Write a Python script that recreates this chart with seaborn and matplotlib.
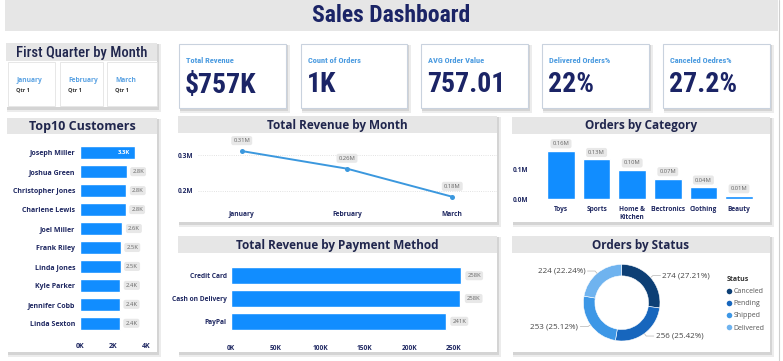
import matplotlib

matplotlib.use("Agg")
import matplotlib.pyplot as plt
import seaborn as sns
from matplotlib import font_manager
from matplotlib.lines import Line2D
from matplotlib.patches import Rectangle
import numpy as np

W, H = 783, 361

# ---- data ----
kpi_labels = ["Total Revenue", "Count of Orders", "AVG Order Value", "Delivered Orders%", "Canceled Oedres%"]
kpi_values = ["$757K", "1K", "757.01", "22%", "27.2%"]
quarter_months = ["January", "February", "March"]
quarter_tags = ["Qtr 1", "Qtr 1", "Qtr 1"]

customers = ["Joseph Miller", "Joshua Green", "Christopher Jones", "Charlene Lewis", "Joel Miller",
             "Frank Riley", "Linda Jones", "Kyle Parker", "Jennifer Cobb", "Linda Sexton"]
customer_revenue = [3330, 2830, 2810, 2770, 2570, 2470, 2460, 2440, 2420, 2410]

months = ["January", "February", "March"]
month_revenue = [311000, 262000, 184000]

categories = ["Toys", "Sports", "Home &\nKitchen", "Electronics", "Clothing", "Beauty"]
category_orders = [162000, 133000, 98000, 69000, 41000, 12000]

payment_methods = ["Credit Card", "Cash on Delivery", "PayPal"]
payment_revenue = [258200, 257600, 241300]

statuses = ["Canceled", "Pending", "Shipped", "Delivered"]
status_counts = [274, 256, 253, 224]

# ---- style ----
BLUE = "#118dff"
LINE = "#3b98de"
NAVY = "#1b2466"
TITLE_C = "#20264d"
TICK = "#1e2761"
HEAD = "#e6e6e6"
LABEL_BOX = dict(boxstyle="round,pad=0.35", fc="#e8e8e8", ec="none")
STATUS_COLORS = ["#0d3f75", "#1766bd", "#3d97e6", "#6fb3ef"]


def pick_font(*names):
    for n in names:
        try:
            font_manager.findfont(font_manager.FontProperties(family=n), fallback_to_default=False)
            return n
        except ValueError:
            pass
    return "DejaVu Sans"


sns.set_theme(style="white")
BODY = pick_font("Open Sans", "Noto Sans", "DejaVu Sans")
NARROW = pick_font("Liberation Sans Narrow", "Roboto Condensed", "Liberation Sans")
plt.rcParams["font.family"] = [BODY, "DejaVu Sans"]

fig = plt.figure(figsize=(W / 100, H / 100), dpi=100, facecolor="white")
bg = fig.add_axes([0, 0, 1, 1])
bg.set_xlim(0, W)
bg.set_ylim(H, 0)
bg.axis("off")


def axes_px(x0, y0, x1, y1):
    a = fig.add_axes([x0 / W, 1 - y1 / H, (x1 - x0) / W, (y1 - y0) / H])
    a.set_facecolor("none")
    return a


def box(x0, y0, x1, y1, **kw):
    bg.add_patch(Rectangle((x0, y0), x1 - x0, y1 - y0, **kw))


def panel(x0, y0, x1, y1, title=None, head=17, edge="none", size=8.5, font=None):
    box(x0 + 0.5, y0 + 1, x1 + 3.5, y1 + 4.5, fc="#ececec", ec="none")
    box(x0 + 1, y0 + 1, x1 + 2, y1 + 2.5, fc="#d4d4d4", ec="none")
    box(x0, y0, x1, y1, fc="white", ec=edge, lw=0.8)
    if title:
        box(x0, y0, x1, y0 + head, fc=HEAD, ec="none")
        bg.text((x0 + x1) / 2, y0 + head / 2 + 0.5, title, ha="center", va="center",
                fontsize=size, fontweight="bold", color=TITLE_C, family=font or BODY)


def style_ticks(ax, size=4.8):
    sns.despine(ax=ax, left=True, bottom=True)
    ax.tick_params(length=0, labelsize=size, labelcolor=TICK)
    for t in ax.get_xticklabels() + ax.get_yticklabels():
        t.set_fontweight("bold")
    ax.set_xlabel("")
    ax.set_ylabel("")


# ---- banner ----
box(5, 0, 778, 31, fc=HEAD, ec="none")
bg.text(391, 16, "Sales Dashboard", ha="center", va="center", fontsize=17,
        fontweight="bold", color=NAVY, family=NARROW)
bg.plot([778.5, 778.5], [0, H], color="#cfcfcf", lw=0.8)

# ---- quarter slicer ----
panel(6, 43, 157, 107)
box(6, 43, 157, 61, fc=HEAD, ec="none")
bg.text(82, 52.5, "First Quarter by Month", ha="center", va="center", fontsize=10.5,
        fontweight="medium", color=TITLE_C, family=NARROW)
for (x0, x1), m, q in zip([(8, 55), (60, 103), (107, 157)], quarter_months, quarter_tags):
    box(x0, 62, x1, 106, fc="white", ec="#e3e3e3", lw=0.6)
    bg.text(x0 + 8, 80, m, ha="left", va="center", fontsize=4.8, fontweight="bold", color="#5aa2e3")
    bg.text(x0 + 8, 90, q, ha="left", va="center", fontsize=4, fontweight="bold", color="#333333")

# ---- KPI cards ----
for (x0, x1), lab, val in zip([(179, 286), (301, 407), (421, 528), (542, 649), (663, 770)],
                              kpi_labels, kpi_values):
    panel(x0, 44, x1, 108, edge="#c9d2de")
    bg.text(x0 + 7, 60.5, lab, ha="left", va="center", fontsize=6, fontweight="bold",
            color="#4b9be0", family=NARROW)
    bg.text(x0 + 6, 85, val, ha="left", va="center", fontsize=20, fontweight="bold",
            color=NAVY, family=NARROW)

# ---- panels ----
panel(7, 118, 157, 352, "Top10 Customers", head=16, size=9)
panel(178, 116, 497, 222, "Total Revenue by Month")
panel(512, 117, 770, 222, "Orders by Category")
panel(178, 236, 497, 352, "Total Revenue by Payment Method")
panel(512, 236, 770, 352, "Orders by Status")

# ---- Top10 customers ----
ax = axes_px(80, 143.2, 146, 332.8)
sns.barplot(x=customer_revenue, y=customers, color=BLUE, width=0.7, saturation=1, ax=ax)
ax.set_xlim(0, 4000)
ax.set_ylim(9.5, -0.5)
ax.set_xticks([0, 2000, 4000], ["0K", "2K", "4K"])
style_ticks(ax, 5)
ax.tick_params(axis="x", pad=7.5)
ax.tick_params(axis="y", pad=3.5)
for i, v in enumerate(customer_revenue):
    txt = f"{v / 1000:.1f}K"
    if i == 0:
        ax.annotate(txt, (v, i), xytext=(-3.4, 0), textcoords="offset points", ha="right",
                    va="center", fontsize=4.2, fontweight="bold", color="white")
    else:
        ax.annotate(txt, (v, i), xytext=(4, 0), textcoords="offset points", ha="left",
                    va="center", fontsize=4.2, color="#666666", bbox=LABEL_BOX)

# ---- revenue by month ----
ax = axes_px(197.5, 140, 496.5, 205)
sns.lineplot(x=months, y=month_revenue, sort=False, color=LINE, lw=1.4, marker="o",
             markersize=3.6, markeredgewidth=0, ax=ax)
ax.set_xlim(-0.42, 2.42)
ax.set_ylim(161111, 341667)
ax.set_yticks([200000, 300000], ["0.2M", "0.3M"])
ax.yaxis.grid(True, ls=":", color="#d9d9d9", lw=0.6)
style_ticks(ax, 4.8)
ax.tick_params(axis="x", pad=4.5)
ax.tick_params(axis="y", pad=3.2)
for i, v in enumerate(month_revenue):
    ax.annotate(f"{v / 1e6:.2f}M", (i, v), xytext=(0, 7.5), textcoords="offset points",
                ha="center", va="center", fontsize=4.2, color="#666666", bbox=LABEL_BOX)

# ---- orders by category ----
ax = axes_px(543.2, 140, 756.8, 199.3)
sns.barplot(x=categories, y=category_orders, color=BLUE, width=0.77, saturation=1, ax=ax)
ax.set_xlim(-0.5, 5.5)
ax.set_ylim(0, 197700)
ax.set_yticks([0, 100000], ["0.0M", "0.1M"])
style_ticks(ax, 4.7)
ax.tick_params(axis="x", pad=4.5)
ax.tick_params(axis="y", pad=11)
for i, v in enumerate(category_orders):
    ax.annotate(f"{v / 1e6:.2f}M", (i, v), xytext=(0, 5), textcoords="offset points",
                ha="center", va="center", fontsize=4.2, color="#666666", bbox=LABEL_BOX)

# ---- revenue by payment method ----
ax = axes_px(231, 264.3, 480, 332.7)
sns.barplot(x=payment_revenue, y=payment_methods, color=BLUE, width=0.73, saturation=1, ax=ax)
ax.set_xlim(0, 279500)
ax.set_ylim(2.5, -0.5)
ticks = [0, 50000, 100000, 150000, 200000, 250000]
ax.set_xticks(ticks, [f"{t // 1000}K" for t in ticks])
style_ticks(ax, 4.8)
ax.tick_params(axis="x", pad=9)
ax.tick_params(axis="y", pad=3)
for i, v in enumerate(payment_revenue):
    ax.annotate(f"{v / 1000:.0f}K", (v, i), xytext=(4.6, 0), textcoords="offset points",
                ha="left", va="center", fontsize=4.2, color="#666666", bbox=LABEL_BOX)

# ---- orders by status (donut) ----
cx, cy, R = 621.7, 302.7, 38.3
ax = axes_px(cx - 50, cy - 50, cx + 50, cy + 50)
wedges, _ = ax.pie(status_counts, colors=STATUS_COLORS, startangle=90, counterclock=False,
                   radius=1, wedgeprops=dict(width=0.3, edgecolor="white", linewidth=0.4))
lim = 50 / R
ax.set_xlim(-lim, lim)
ax.set_ylim(-lim, lim)
ax.set_aspect("equal")
ax.axis("off")
total = sum(status_counts)
for w, n in zip(wedges, status_counts):
    ang = np.deg2rad((w.theta1 + w.theta2) / 2)
    c, s = np.cos(ang), np.sin(ang)
    side = 1 if c >= 0 else -1
    ex, ey = 1.08 * c, 1.08 * s
    ax.plot([c, ex, ex + side * 0.2], [s, ey, ey], color="#b5b5b5", lw=0.5, clip_on=False)
    ax.text(ex + side * 0.25, ey, f"{n} ({n / total * 100:.2f}%)", ha="left" if side > 0 else "right",
            va="center", fontsize=5.8, color="#444444", clip_on=False)
handles = [Line2D([], [], ls="none", marker="o", ms=4, mfc=col, mec="none") for col in STATUS_COLORS]
leg = ax.legend(handles, statuses, title="Status", loc="upper left",
                bbox_to_anchor=(724 / W, 1 - 273 / H), bbox_transform=fig.transFigure,
                frameon=False, fontsize=5, title_fontsize=5, handlelength=0.7,
                handletextpad=0.3, labelspacing=0.75, borderaxespad=0, alignment="left")
leg.get_title().set_fontweight("bold")
leg.get_title().set_color("#333333")
for t in leg.get_texts():
    t.set_color("#555555")

fig.savefig("out.png", dpi=100, facecolor="white")
